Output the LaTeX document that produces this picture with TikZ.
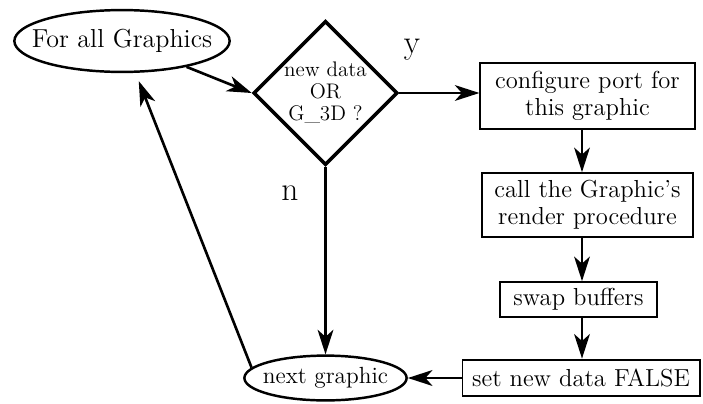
\documentclass[tikz,border=0pt]{standalone}
\usetikzlibrary{shapes.geometric,arrows.meta}
\begin{document}
\begin{tikzpicture}[scale=0.2]
            \tikzstyle{every node}+=[inner sep=0pt]
            \tikzstyle{oval}=[draw, ellipse, line width=1.4pt, font=\fontsize{13.3}{15}\selectfont]
            \tikzstyle{box}=[draw, rectangle, line width=1.1pt, align=center, font=\fontsize{14}{15.3}\selectfont]
            \tikzstyle{decision}=[draw, diamond, line width=2pt, align=center, font=\fontsize{12}{12.5}\selectfont]
            \tikzstyle{flow}=[line width=1.5pt, -{Stealth[length=14pt,width=9pt,inset=4pt]}]
            \tikzstyle{answer}=[font=\fontsize{19}{21}\selectfont]
            \useasboundingbox (0,0) rectangle (70.3,-40.3);
            \node [oval, inner xsep=-8pt, minimum height=35.2pt, font=\fontsize{14.8}{16}\selectfont] (all) at (12.2,-4.1) {For all Graphics};
            \node [decision, minimum width=80.5pt, minimum height=79.4pt] (test) at (32.55,-9.3) {new data\\OR\\G\_3D ?};
            \node [box, minimum width=121.9pt, minimum height=37.4pt] (cfg) at (58.75,-9.6) {configure port for\\this graphic};
            \node [box, minimum width=119.6pt, minimum height=36.3pt] (render) at (58.75,-20.5) {call the Graphic's\\render procedure};
            \node [box, minimum width=89pt, minimum height=19.8pt] (swap) at (57.85,-29.95) {swap buffers};
            \node [box, minimum width=134.9pt, minimum height=21pt] (reset) at (58.1,-37.8) {set new data FALSE};
            \node [oval, inner xsep=-3pt, minimum height=25.5pt] (next) at (32.55,-37.8) {next graphic};
            \node [answer] (yes) at (41.2,-5.0) {y};
            \node [answer] (no) at (29.0,-19.3) {n};
            \coordinate (col) at (58.2,0);
            \draw [flow] (all) -- (test.west);
            \draw [flow, line width=1.1pt] (test.east) -- (test.east -| cfg.west);
            \draw [flow] (test.south) -- (next.north);
            \draw [flow, line width=1.1pt] (cfg.south -| col) -- (render.north -| col);
            \draw [flow, line width=1.1pt] (render.south -| col) -- (swap.north -| col);
            \draw [flow, line width=1.1pt] (swap.south -| col) -- (reset.north -| col);
            \draw [flow] (reset.west) -- (next.east);
            \draw [flow, shorten >=5pt] (next.172) -- (all.-67);
        \end{tikzpicture}
\end{document}
